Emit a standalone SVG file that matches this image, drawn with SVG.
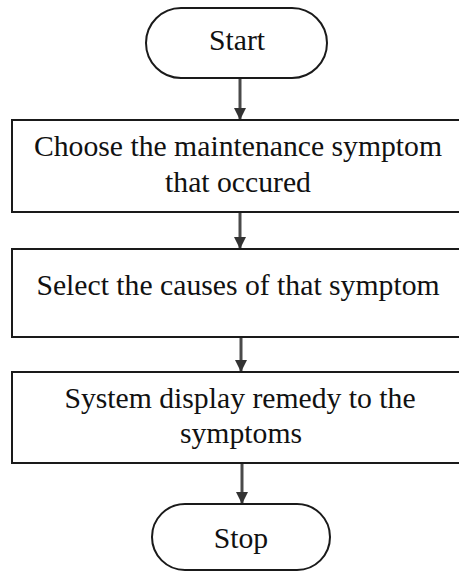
<svg xmlns="http://www.w3.org/2000/svg" width="459" height="572" viewBox="0 0 459 572">
  <style>
    .bg { fill: #ffffff; }
    .term { fill: #ffffff; stroke: #1a1a1a; stroke-width: 2; }
    .proc { fill: #ffffff; stroke: #1a1a1a; stroke-width: 2; }
    .lbl { font-family: "Liberation Serif", "Times New Roman", serif; font-size: 29.7px; fill: #111111; text-anchor: middle; }
    .flow { stroke: #4a4a4a; stroke-width: 3; fill: none; marker-end: url(#head); }
  </style>
  <defs>
    <marker id="head" viewBox="0 0 12 12" refX="11" refY="6" markerWidth="12" markerHeight="12" markerUnits="userSpaceOnUse" orient="auto">
      <path d="M0,0 L12,6 L0,12 Z" fill="#333333"/>
    </marker>
  </defs>

  <rect class="bg" x="0" y="0" width="459" height="572"/>

  <!-- connectors -->
  <g id="connectors">
    <line class="flow" x1="240" y1="79" x2="240" y2="119"/>
    <line class="flow" x1="240" y1="213" x2="240" y2="248"/>
    <line class="flow" x1="241" y1="338" x2="241" y2="371"/>
    <line class="flow" x1="242" y1="464" x2="242" y2="503"/>
  </g>

  <!-- start terminal -->
  <g id="start">
    <rect class="term" x="146" y="8" width="181" height="70" rx="35" ry="35"/>
    <text class="lbl" x="237" y="50">Start</text>
  </g>

  <!-- step 1 -->
  <g id="choose-symptom">
    <rect class="proc" x="12" y="120" width="462" height="92"/>
    <text class="lbl" x="238" y="156">Choose the maintenance symptom</text>
    <text class="lbl" x="238" y="192">that occured</text>
  </g>

  <!-- step 2 -->
  <g id="select-causes">
    <rect class="proc" x="12" y="249" width="462" height="88"/>
    <text class="lbl" x="238" y="295">Select the causes of that symptom</text>
  </g>

  <!-- step 3 -->
  <g id="display-remedy">
    <rect class="proc" x="12" y="372" width="462" height="91"/>
    <text class="lbl" x="240" y="408">System display remedy to the</text>
    <text class="lbl" x="241" y="443">symptoms</text>
  </g>

  <!-- stop terminal -->
  <g id="stop">
    <rect class="term" x="152" y="504" width="178" height="66" rx="33" ry="33"/>
    <text class="lbl" x="241" y="548">Stop</text>
  </g>
</svg>
